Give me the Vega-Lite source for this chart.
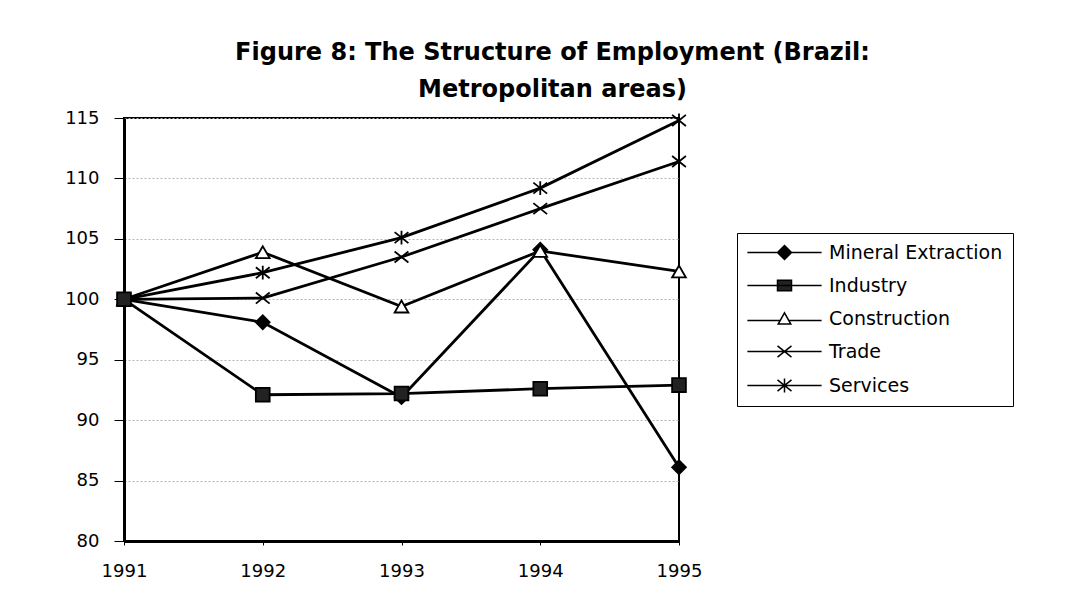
{
  "$schema": "https://vega.github.io/schema/vega-lite/v6.json",
  "width": 555,
  "height": 423,
  "autosize": {"type": "none"},
  "padding": {"left": 124, "top": 118, "right": 405, "bottom": 71},
  "background": "white",
  "config": {
    "font": "DejaVu Sans",
    "view": {"stroke": "black", "strokeWidth": 2}
  },
  "title": {
    "text": ["Figure 8: The Structure of Employment (Brazil:", "Metropolitan areas)"],
    "font": "DejaVu Sans",
    "fontSize": 24,
    "fontWeight": "bold",
    "color": "black",
    "anchor": "middle",
    "frame": "group",
    "dx": 151,
    "offset": 7,
    "lineHeight": 37
  },
  "data": {
    "values": [
      {"year": 1991, "series": "Mineral Extraction", "value": 100},
      {"year": 1992, "series": "Mineral Extraction", "value": 98.1},
      {"year": 1993, "series": "Mineral Extraction", "value": 91.9},
      {"year": 1994, "series": "Mineral Extraction", "value": 104.1},
      {"year": 1995, "series": "Mineral Extraction", "value": 86.1},
      {"year": 1991, "series": "Construction", "value": 100},
      {"year": 1992, "series": "Construction", "value": 103.9},
      {"year": 1993, "series": "Construction", "value": 99.4},
      {"year": 1994, "series": "Construction", "value": 104.0},
      {"year": 1995, "series": "Construction", "value": 102.3},
      {"year": 1991, "series": "Trade", "value": 100},
      {"year": 1992, "series": "Trade", "value": 100.1},
      {"year": 1993, "series": "Trade", "value": 103.5},
      {"year": 1994, "series": "Trade", "value": 107.5},
      {"year": 1995, "series": "Trade", "value": 111.4},
      {"year": 1991, "series": "Services", "value": 100},
      {"year": 1992, "series": "Services", "value": 102.2},
      {"year": 1993, "series": "Services", "value": 105.1},
      {"year": 1994, "series": "Services", "value": 109.2},
      {"year": 1995, "series": "Services", "value": 114.8},
      {"year": 1991, "series": "Industry", "value": 100},
      {"year": 1992, "series": "Industry", "value": 92.1},
      {"year": 1993, "series": "Industry", "value": 92.2},
      {"year": 1994, "series": "Industry", "value": 92.6},
      {"year": 1995, "series": "Industry", "value": 92.9}
    ]
  },
  "encoding": {
    "x": {
      "field": "year",
      "type": "quantitative",
      "scale": {"domain": [1991, 1995], "nice": false, "zero": false},
      "axis": {
        "title": null,
        "values": [1991, 1992, 1993, 1994, 1995],
        "format": "d",
        "grid": false,
        "domainColor": "black",
        "domainWidth": 3,
        "tickColor": "black",
        "tickSize": 4,
        "labelFont": "DejaVu Sans",
        "labelFontSize": 18,
        "labelColor": "black",
        "labelPadding": 17,
        "labelFlush": false
      }
    },
    "y": {
      "field": "value",
      "type": "quantitative",
      "scale": {"domain": [80, 115], "nice": false, "zero": false},
      "axis": {
        "title": null,
        "values": [80, 85, 90, 95, 100, 105, 110, 115],
        "grid": true,
        "gridColor": "#b5b5b5",
        "gridDash": [2, 2],
        "gridWidth": 1,
        "domainColor": "black",
        "domainWidth": 3,
        "tickColor": "black",
        "tickSize": 10,
        "labelFont": "DejaVu Sans",
        "labelFontSize": 18,
        "labelColor": "black",
        "labelPadding": 15,
        "labelFlush": false
      }
    }
  },
  "layer": [
    {
      "mark": {"type": "line", "color": "black", "strokeWidth": 2.8},
      "encoding": {"detail": {"field": "series"}}
    },
    {
      "mark": {"type": "point", "stroke": "black", "strokeWidth": 1.8, "size": 190, "opacity": 1},
      "encoding": {
        "shape": {
          "field": "series",
          "scale": {
            "domain": ["Mineral Extraction", "Industry", "Construction", "Trade", "Services"],
            "range": ["diamond", "square", "triangle-up", "M-1,-0.8L1,0.8M-1,0.8L1,-0.8", "M-1,-0.8L1,0.8M-1,0.8L1,-0.8M0,-1V1"]
          },
          "legend": null
        },
        "fill": {
          "field": "series",
          "scale": {
            "domain": ["Mineral Extraction", "Industry", "Construction", "Trade", "Services"],
            "range": ["black", "#222222", "white", "black", "black"]
          },
          "legend": null
        }
      }
    },
    {
      "transform": [{"filter": "false"}],
      "mark": {"type": "point", "stroke": "black", "strokeWidth": 1.5, "size": 196, "opacity": 1},
      "encoding": {
        "shape": {
          "field": "series",
          "scale": {
            "domain": ["Mineral Extraction", "Industry", "Construction", "Trade", "Services"],
            "range": [
              "M-5.3,0H5.3M0,-1L1,0L0,1L-1,0Z",
              "M-5.3,0H5.3M-1,-0.75H1V0.75H-1Z",
              "M-5.3,0.3H-0.62M0.62,0.3H5.3M0,-0.8L0.9,0.8L-0.9,0.8Z",
              "M-5.3,0H5.3M-1,-0.8L1,0.8M-1,0.8L1,-0.8",
              "M-5.3,0H5.3M-1,-0.8L1,0.8M-1,0.8L1,-0.8M0,-1V1"
            ]
          },
          "legend": {
            "title": null,
            "orient": "none",
            "legendX": 613,
            "legendY": 115,
            "strokeColor": "black",
            "padding": 10,
            "rowPadding": 13,
            "symbolSize": 196,
            "symbolOffset": 28,
            "labelOffset": 35,
            "labelFont": "DejaVu Sans",
            "labelFontSize": 19,
            "labelColor": "black",
            "labelLimit": 400,
            "encode": {"symbols": {"update": {"stroke": {"value": "black"}, "strokeWidth": {"value": 2}}}}
          }
        },
        "fill": {
          "field": "series",
          "scale": {
            "domain": ["Mineral Extraction", "Industry", "Construction", "Trade", "Services"],
            "range": ["black", "#222222", "white", "black", "black"]
          },
          "legend": {
            "title": null,
            "orient": "none",
            "legendX": 613,
            "legendY": 115,
            "strokeColor": "black",
            "padding": 10,
            "rowPadding": 13,
            "symbolSize": 196,
            "symbolOffset": 28,
            "labelOffset": 35,
            "labelFont": "DejaVu Sans",
            "labelFontSize": 19,
            "labelColor": "black",
            "labelLimit": 400,
            "encode": {"symbols": {"update": {"stroke": {"value": "black"}, "strokeWidth": {"value": 2}}}}
          }
        }
      }
    }
  ],
  "resolve": {
    "scale": {"shape": "independent", "fill": "independent"},
    "legend": {"shape": "independent", "fill": "independent"}
  }
}
